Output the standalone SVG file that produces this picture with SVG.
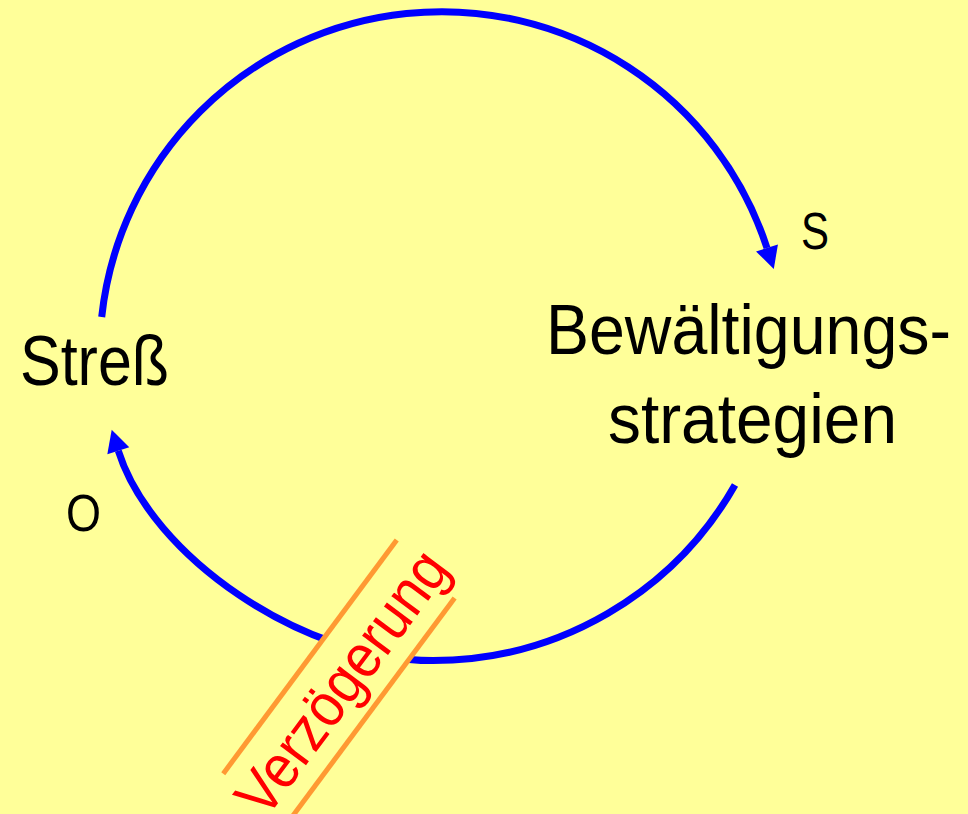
<svg xmlns="http://www.w3.org/2000/svg" width="968" height="814" viewBox="0 0 968 814">
  <style>
    .lbl { font-family: "Liberation Sans", Arial, sans-serif; fill: #000000; }
    .conn { fill: none; stroke: #0000FF; stroke-width: 7; marker-end: url(#arrow); }
    .delay { stroke: #FF9933; stroke-width: 5; fill: none; }
  </style>
  <defs>
    <marker id="arrow" markerUnits="userSpaceOnUse" markerWidth="22" markerHeight="23" refX="0" refY="11.5" orient="auto" overflow="visible">
      <path d="M0,0 L22,11.5 L0,23 Z" fill="#0000FF"/>
    </marker>
  </defs>
  <rect x="0" y="0" width="968" height="814" fill="#FFFF99"/>
  <g id="connectors">
    <path class="conn" d="M101.7,317 A342,342 0 0 1 767,248"/>
    <path class="conn" d="M735,485 A347.7,347.7 0 0 1 433,660.6 C303,660.6 151.3,555.9 118.3,450.8"/>
  </g>
  <g id="delay" transform="rotate(-53.4)">
    <polygon points="-488,640.5 -197,640.5 -209,721.5 -500,721.5" fill="#FFFF99"/>
    <line class="delay" x1="-488" y1="640.5" x2="-197" y2="640.5"/>
    <line class="delay" x1="-500" y1="721.5" x2="-209" y2="721.5"/>
    <text x="-500" y="702" font-family="Liberation Sans, Arial, sans-serif" font-size="61" fill="#FF0000" textLength="312" lengthAdjust="spacingAndGlyphs">Verzögerung</text>
  </g>
  <g id="stress">
    <text class="lbl" x="20" y="385" font-size="70" textLength="149" lengthAdjust="spacingAndGlyphs">Streß</text>
  </g>
  <g id="strategies">
    <text class="lbl" x="546" y="354" font-size="71" textLength="405" lengthAdjust="spacingAndGlyphs">Bewältigungs-</text>
    <text class="lbl" x="608" y="443" font-size="71" textLength="289" lengthAdjust="spacingAndGlyphs">strategien</text>
  </g>
  <g id="label-s">
    <text class="lbl" x="801" y="249" font-size="52" textLength="28" lengthAdjust="spacingAndGlyphs">S</text>
  </g>
  <g id="label-o">
    <text class="lbl" x="66" y="531" font-size="52" textLength="35" lengthAdjust="spacingAndGlyphs">O</text>
  </g>
</svg>
